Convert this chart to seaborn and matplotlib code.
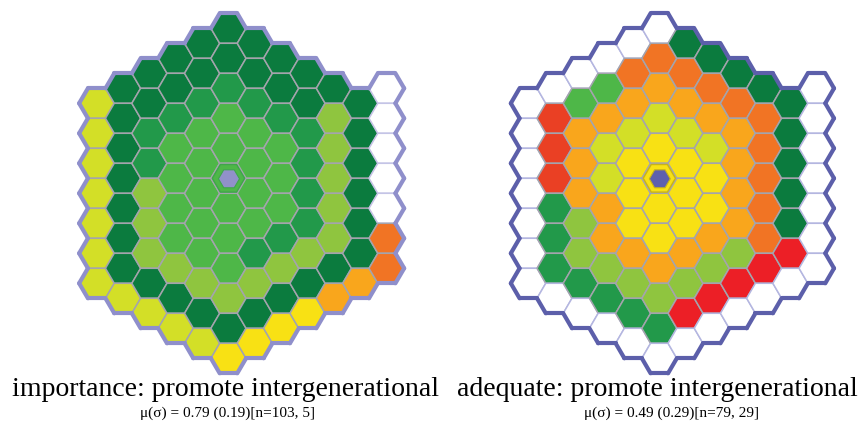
import numpy as np
import matplotlib
matplotlib.use("Agg")
import matplotlib.pyplot as plt
from matplotlib.collections import PolyCollection, LineCollection
import seaborn as sns

# Colour scale for the cell levels, low (0) -> high (9)
level_colors = ["#ec1f26", "#ea4024", "#f17424", "#f9a61c", "#f8e114",
                "#d3df27", "#8fc53f", "#4eb748", "#22994a", "#0b7b3e"]

# Grid layout: starting half-row of each column and number of cells in it
col_top = [7, 6, 5, 4, 3, 2, 3, 4, 5, 6, 7, 6]
col_len = [7, 8, 9, 10, 11, 12, 11, 10, 9, 8, 7, 7]
center_cell = (5, 5)  # (column, position in column) of the reference node

N = None  # node without responses

importance_levels = [
    [5, 5, 5, 5, 5, 5, 5],
    [9, 9, 9, 9, 9, 9, 9, 5],
    [9, 9, 8, 8, 6, 6, 6, 9, 5],
    [9, 9, 8, 7, 7, 7, 7, 6, 9, 5],
    [9, 9, 8, 7, 7, 7, 7, 7, 6, 9, 5],
    [9, 9, 8, 7, 7, 7, 7, 7, 7, 6, 9, 4],
    [9, 9, 8, 7, 7, 7, 7, 8, 6, 9, 4],
    [9, 9, 8, 7, 7, 7, 8, 6, 9, 4],
    [9, 9, 8, 8, 8, 8, 6, 9, 4],
    [9, 6, 6, 6, 6, 6, 9, 3],
    [9, 9, 9, 9, 9, 9, 3],
    [N, N, N, N, N, 2, 2],
]

adequate_levels = [
    [N, N, N, N, N, N, N],
    [N, 1, 1, 1, 8, 8, 8, N],
    [N, 7, 3, 3, 3, 6, 6, 8, N],
    [N, 7, 3, 5, 5, 3, 3, 6, 8, N],
    [N, 2, 3, 5, 4, 4, 4, 3, 6, 8, N],
    [N, 2, 3, 5, 4, 4, 4, 4, 3, 6, 8, N],
    [9, 2, 3, 5, 4, 4, 4, 3, 6, 0, N],
    [9, 2, 3, 5, 4, 4, 3, 6, 0, N],
    [9, 2, 3, 3, 3, 3, 6, 0, N],
    [9, 2, 2, 2, 2, 2, 0, N],
    [9, 9, 9, 9, 9, 0, N],
    [N, N, N, N, N, N, N],
]

titles = ["importance: promote intergenerational",
          "adequate: promote intergenerational"]
subtitles = ["\u03bc(\u03c3) = 0.79 (0.19)[n=103, 5]",
             "\u03bc(\u03c3) = 0.49 (0.29)[n=79, 29]"]

W, H = 862, 430
sns.set_theme(style="white")
plt.rcParams["font.family"] = ["Liberation Serif", "DejaVu Serif"]

fig = plt.figure(figsize=(W / 100, H / 100), dpi=100)

R3 = np.sqrt(3) / 2
ANG = np.deg2rad(np.arange(0, 360, 60))
# neighbour offsets (dc, dk) across edge i (between vertex i and i+1)
EDGE_NB = [(1, -1), (0, -2), (-1, -1), (-1, 1), (0, 2), (1, 1)]


def hex_verts(cx, cy, r=1.0):
    return np.column_stack([cx + r * np.cos(ANG), cy + r * np.sin(ANG)])


def draw_grid(ax, levels, border_col, empty_edge, marker_col, ring_col):
    cells = {}
    for c, col in enumerate(levels):
        for i, lv in enumerate(col):
            cells[(c, col_top[c] + 2 * i)] = (lv, i)

    polys, faces, edges = [], [], []
    for (c, k), (lv, i) in cells.items():
        x, y = 1.5 * c, -k * R3
        polys.append(hex_verts(x, y))
        if lv is None:
            faces.append("white")
            edges.append(empty_edge)
        else:
            faces.append(level_colors[lv])
            edges.append("#a4a4ad")
    ax.add_collection(PolyCollection(polys, facecolors=faces, edgecolors=edges,
                                     linewidths=1.1, zorder=1))

    # outer boundary: edges without a neighbouring cell
    segs = []
    for (c, k) in cells:
        v = hex_verts(1.5 * c, -k * R3)
        for e, (dc, dk) in enumerate(EDGE_NB):
            if (c + dc, k + dk) not in cells:
                segs.append([v[e], v[(e + 1) % 6]])
    ax.add_collection(LineCollection(segs, colors=border_col, linewidths=3.0,
                                     capstyle="round", joinstyle="round", zorder=3))

    # reference node marker
    cc, ci = center_cell
    x, y = 1.5 * cc, -(col_top[cc] + 2 * ci) * R3
    ax.add_collection(PolyCollection([hex_verts(x, y, 0.92)], facecolors="none",
                                     edgecolors=ring_col, linewidths=1.0, zorder=2))
    ax.add_collection(PolyCollection([hex_verts(x, y, 0.6)], facecolors=marker_col,
                                     edgecolors=ring_col, linewidths=0.8, zorder=2))


def place_axes(px0, py0, sx, sy, xlim, ylim):
    left = px0 + xlim[0] * sx
    right = px0 + xlim[1] * sx
    top = py0 - ylim[1] * sy
    bottom = py0 - ylim[0] * sy
    ax = fig.add_axes([left / W, 1 - bottom / H, (right - left) / W, (bottom - top) / H])
    ax.set_xlim(*xlim)
    ax.set_ylim(*ylim)
    ax.set_axis_off()
    return ax


xlim = (-1.5, 18.5)
ylim = (-23.0, 1.0)

ax1 = place_axes(96.7, -1.7, 17.57, 17.32, xlim, ylim)
draw_grid(ax1, importance_levels, "#8f8fcb", "#c4c4e6", "#9191c9", "#3fa64b")

ax2 = place_axes(528.3, -1.7, 17.47, 17.32, xlim, ylim)
draw_grid(ax2, adequate_levels, "#5c5faa", "#b4b6e0", "#5d60ad", "#c9b416")

for cx, t in [(226, titles[0]), (657, titles[1])]:
    fig.text(cx / W, 1 - 389 / H, t, ha="center", va="center", size=20, color="black")
for cx, s in [(228, subtitles[0]), (672, subtitles[1])]:
    fig.text(cx / W, 1 - 413 / H, s, ha="center", va="center", size=11, color="black")

fig.savefig("out.png", dpi=100, facecolor="white")
